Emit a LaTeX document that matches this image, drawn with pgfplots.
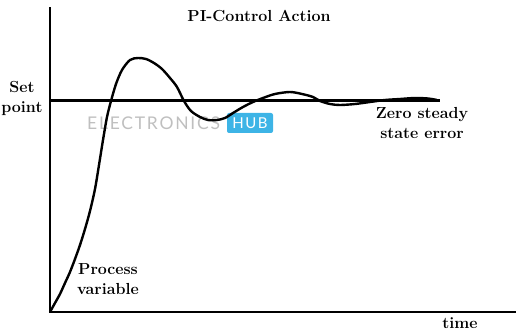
\documentclass[border=0pt]{standalone}
\usepackage{pgfplots}
\pgfplotsset{compat=1.18}
\usepackage{fontspec}
\newfontfamily\wmfont[LetterSpace=10]{Lato}
\definecolor{hubblue}{HTML}{3DB4E6}
\begin{document}
\begin{tikzpicture}
\begin{axis}[
  x=1pt, y=1pt,
  scale only axis,
  xmin=50, xmax=515, ymin=22, ymax=326,
  axis lines=left,
  axis line style={-, line width=2.6pt, line cap=rect},
  ticks=none,
  clip=false,
]
% watermark
\node[anchor=west, text=black!25, font=\wmfont\fontsize{17.5}{17.5}\selectfont, inner sep=0pt] at (axis cs:87,211) {ELECTRONICS};
\node[fill=hubblue, rounded corners=2pt, text=white, font=\wmfont\fontsize{15}{15}\selectfont, minimum width=46pt, minimum height=20pt, inner sep=0pt] at (axis cs:250,211) {HUB};
% set point
\addplot[black, line width=2.6pt] coordinates {(50,233.3) (440,233.3)};
% process variable
\addplot[black, line width=2.4pt, smooth] coordinates {
(50,22) (55,31) (60,40) (65,51) (70,62) (75,75) (80,89) (85,105) (90,123)
(95,145) (99,169) (103,194) (107,217) (111,233) (116,250)
(122,264) (130,274) (138,276) (146,275) (154,271) (162,265)
(170,256) (177,247) (184,233) (191,223) (200,217) (208,214)
(217,214) (225,216) (233,221) (243,227) (253,232) (263,236) (275,240)
(290,242) (302,240) (313,237) (320,233) (330,230) (340,229) (355,230)
(370,232) (385,234) (400,235) (415,236) (428,235.5) (437,234)
};
% texts
\node[font=\bfseries\fontsize{16}{16}\selectfont] at (axis cs:259,318) {PI-Control Action};
\node[font=\bfseries\fontsize{16}{20}\selectfont, align=center] at (axis cs:22,236) {Set\\point};
\node[font=\bfseries\fontsize{16}{20}\selectfont, align=center] at (axis cs:422,211) {Zero steady\\state error};
\node[font=\bfseries\fontsize{16}{20}\selectfont, align=center] at (axis cs:108,55) {Process\\variable};
\node[font=\bfseries\fontsize{16}{16}\selectfont] at (axis cs:460,11) {time};
\coordinate (bl) at (axis cs:0,0);
\coordinate (tr) at (axis cs:526,334);
\end{axis}
\pgfresetboundingbox
\path[use as bounding box] (bl) rectangle (tr);
\end{tikzpicture}
\end{document}
